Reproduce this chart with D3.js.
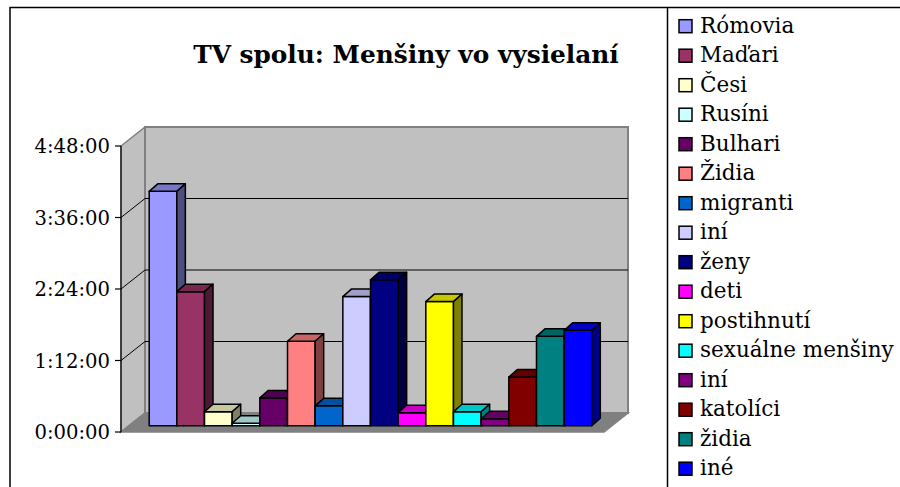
<!DOCTYPE html>
<html>
<head>
<meta charset="utf-8">
<script src="https://cdn.jsdelivr.net/npm/d3@7"></script>
<style>
  body { margin: 0; background: #fff; }
  svg { display: block; font-family: "DejaVu Serif", serif; }
</style>
</head>
<body>
<div id="chart"></div>
<script>
// series (one bar each), airtime in minutes
const series = ['Rómovia', 'Maďari', 'Česi', 'Rusíni', 'Bulhari', 'Židia', 'migranti', 'iní',
  'ženy', 'deti', 'postihnutí', 'sexuálne menšiny', 'iní', 'katolíci', 'židia', 'iné'];
const minutes = [236, 135, 14, 2.5, 28, 85, 20, 130, 147, 13, 125, 14, 7, 49, 90, 96];
const tickMinutes = [0, 72, 144, 216, 288];
const palette = ['#9999FF', '#993366', '#FFFFCC', '#CCFFFF', '#660066', '#FF8080', '#0066CC', '#CCCCFF',
  '#000080', '#FF00FF', '#FFFF00', '#00FFFF', '#800080', '#800000', '#008080', '#0000FF'];

const W = 900, H = 487;
const svg = d3.select('#chart').append('svg').attr('width', W).attr('height', H);
svg.append('rect').attr('width', W).attr('height', H).attr('fill', '#fff');

// 3d offsets
const DX = 24, DY = -19;          // whole floor depth
const BX = 8, BY = -6.3;          // bar front sits a third of the way back
const BDX = 8.5, BDY = -7.5;      // bar depth

const x = d3.scaleBand().domain(d3.range(series.length)).range([121, 604])
  .paddingInner(0).paddingOuter(0.73);
const y = d3.scaleLinear().domain([0, 288]).range([432, 146]);

function fmt(m) {
  const h = Math.floor(m / 60), mm = m % 60;
  return h + ':' + String(mm).padStart(2, '0') + ':00';
}

const xl = x.range()[0], xr = x.range()[1];
const g = svg.append('g');

// walls + floor
g.append('polygon')
  .attr('points', [[xl, y(288)], [xl + DX, y(288) + DY], [xl + DX, y(0) + DY], [xl, y(0)]].join(' '))
  .attr('fill', '#c0c0c0').attr('stroke', '#808080').attr('stroke-width', 1.5);
g.append('rect')
  .attr('x', xl + DX).attr('y', y(288) + DY)
  .attr('width', xr - xl).attr('height', y(0) - y(288))
  .attr('fill', '#c0c0c0').attr('stroke', '#808080').attr('stroke-width', 2);
g.append('polygon')
  .attr('points', [[xl, y(0)], [xr, y(0)], [xr + DX, y(0) + DY], [xl + DX, y(0) + DY]].join(' '))
  .attr('fill', '#808080').attr('stroke', '#808080').attr('stroke-width', 1.5);

// gridlines
const inner = tickMinutes.filter(t => t > 0 && t < 288);
g.selectAll('.gb').data(inner).join('line')
  .attr('x1', xl + DX).attr('x2', xr + DX)
  .attr('y1', d => y(d) + DY).attr('y2', d => y(d) + DY)
  .attr('stroke', '#000').attr('stroke-width', 1);
g.selectAll('.gs').data(inner).join('line')
  .attr('x1', xl).attr('x2', xl + DX)
  .attr('y1', d => y(d)).attr('y2', d => y(d) + DY)
  .attr('stroke', '#000').attr('stroke-width', 1);

// axis
g.append('line').attr('x1', xl).attr('x2', xl).attr('y1', y(288)).attr('y2', y(0))
  .attr('stroke', '#000').attr('stroke-width', 1.2);
g.selectAll('.tk').data(tickMinutes).join('line')
  .attr('x1', xl - 6).attr('x2', xl).attr('y1', d => y(d)).attr('y2', d => y(d))
  .attr('stroke', '#000').attr('stroke-width', 1.2);
g.selectAll('.tl').data(tickMinutes).join('text')
  .attr('x', xl - 11).attr('y', d => y(d)).attr('dy', '0.36em')
  .attr('text-anchor', 'end').attr('font-size', 19.6).attr('fill', '#000')
  .text(fmt);

// bars
const shade = (c, k) => { const r = d3.rgb(c); return d3.rgb(r.r * k, r.g * k, r.b * k).formatHex(); };
series.forEach((s, i) => {
  const bx = x(i) + BX, bw = x.bandwidth();
  const base = y(0) + BY, top = y(minutes[i]) + BY;
  const bar = g.append('g').attr('stroke', '#000').attr('stroke-width', 1.5).attr('stroke-linejoin', 'round');
  bar.append('rect').attr('x', bx).attr('y', top).attr('width', bw).attr('height', base - top)
    .attr('fill', palette[i]);
  bar.append('polygon')
    .attr('points', [[bx, top], [bx + bw, top], [bx + bw + BDX, top + BDY], [bx + BDX, top + BDY]].join(' '))
    .attr('fill', shade(palette[i], 0.78));
  bar.append('polygon')
    .attr('points', [[bx + bw, top], [bx + bw + BDX, top + BDY], [bx + bw + BDX, base + BDY], [bx + bw, base]].join(' '))
    .attr('fill', shade(palette[i], 0.5));
});

// title
svg.append('text').attr('x', 406).attr('y', 63).attr('text-anchor', 'middle')
  .attr('font-size', 24.8).attr('font-weight', 'bold').attr('fill', '#000')
  .text('TV spolu: Menšiny vo vysielaní');

// frame + legend box
svg.append('path').attr('d', `M10,${H} V7.5 H${W}`).attr('fill', 'none').attr('stroke', '#000').attr('stroke-width', 1.5);
svg.append('line').attr('x1', 667.5).attr('x2', 667.5).attr('y1', 7.5).attr('y2', H)
  .attr('stroke', '#000').attr('stroke-width', 1.5);

// legend
const leg = svg.append('g');
const item = leg.selectAll('g').data(series).join('g')
  .attr('transform', (d, i) => `translate(679,${32.7 + i * 29.5})`);
item.append('rect').attr('x', 0).attr('y', -13).attr('width', 13).attr('height', 13)
  .attr('fill', (d, i) => palette[i]).attr('stroke', '#000').attr('stroke-width', 1.5);
item.append('text').attr('x', 21).attr('y', 0).attr('font-size', 21.5).attr('fill', '#000').text(d => d);
</script>
</body>
</html>
